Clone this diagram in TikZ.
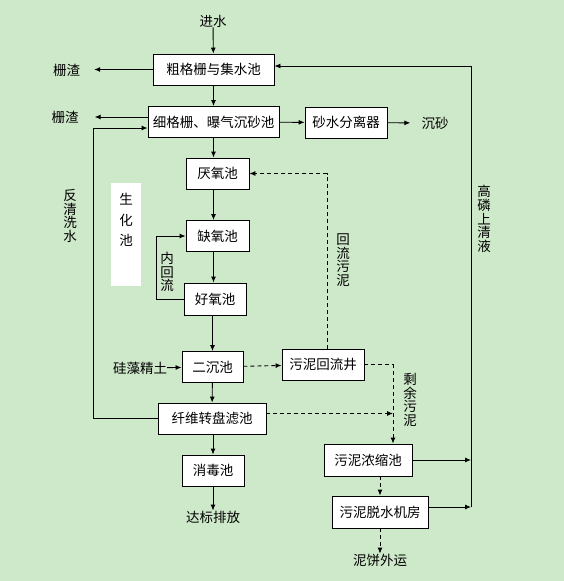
\documentclass[tikz,border=0pt]{standalone}
\usepackage{fontspec}
\newfontfamily\cjk{Noto Sans CJK SC}
\usetikzlibrary{arrows.meta, positioning}
\definecolor{bggreen}{RGB}{206,232,202}
\tikzset{%
>={Latex[width=5pt,length=6pt]},
  % Specifications for style of nodes:
            box/.style = {rectangle, draw=black, fill=white, line width=0.9pt,
                            inner sep=0pt, minimum height=31pt,
                            font=\cjk\fontsize{13.5}{14}\selectfont},
            tag/.style = {inner sep=0pt, font=\cjk\fontsize{13.5}{14}\selectfont},
            vtag/.style = {tag, align=center, font=\cjk\fontsize{13.5}{13.6}\selectfont},
            link/.style = {line width=0.9pt, ->},
            dlink/.style = {link, dash pattern=on 4pt off 3pt}
}
\begin{document}
\begin{tikzpicture}[x=1pt, y=-1pt]
                \fill[bggreen] (0,0) rectangle (564,581);

                % water line
                \node[box, minimum width=121pt] (b1) at (213.5,69.5) {粗格栅与集水池};
                \node[box, minimum width=131pt] (b2) at (213.5,122) {细格栅、曝气沉砂池};
                \node[box, minimum width=82pt] (sand) at (346,122.5) {砂水分离器};
                \node[box, minimum width=63pt] (b3) at (217.5,173.5) {厌氧池};
                \node[box, minimum width=63pt] (b4) at (217.5,236) {缺氧池};
                \node[box, minimum width=62pt, minimum height=32pt] (b5) at (215,299) {好氧池};
                \node[box, minimum width=61pt] (b6) at (212.5,367) {二沉池};
                \node[box, minimum width=108pt] (b7) at (212,418.5) {纤维转盘滤池};
                \node[box, minimum width=62pt] (b8) at (213,470.5) {消毒池};

                % sludge line
                \node[box, minimum width=82pt] (well) at (323,364.5) {污泥回流井};
                \node[box, minimum width=88pt, minimum height=32pt] (conc) at (368,460) {污泥浓缩池};
                \node[box, minimum width=96pt, minimum height=32pt] (dew) at (380,512) {污泥脱水机房};

                \node[tag] (in) at (213,21) {进水};
                \node[tag] (zha1) at (66.5,70) {栅渣};
                \node[tag] (zha2) at (65,117) {栅渣};
                \node[tag] (cs) at (435,123) {沉砂};
                \node[tag] (gz) at (140,368) {硅藻精土};
                \node[tag] (out) at (213,517) {达标排放};
                \node[tag] (cake) at (380,560) {泥饼外运};

                \node[fill=white, minimum width=30pt, minimum height=103pt] (bio) at (126,234.5) {};
                \node[vtag, font=\cjk\fontsize{13.5}{20.5}\selectfont] (biotxt) at (126,220) {生\\化\\池};
                \node[vtag] (fqx) at (70,216) {反\\清\\洗\\水};
                \node[vtag] (nhl) at (167,272) {内\\回\\流};
                \node[vtag] (hlwn) at (343,260) {回\\流\\污\\泥};
                \node[vtag] (syw) at (410,400) {剩\\余\\污\\泥};
                \node[vtag] (glq) at (484,219) {高\\磷\\上\\清\\液};

                \coordinate (rt) at (471,66);
                \coordinate (rb) at (471,507);
                \coordinate (bw) at (93,128);
                \coordinate (sl) at (393,365);

                \draw[link] (in) -- (b1);
                \draw[link, shorten >=14pt] (b1.west) -- (b1.west -| zha1.east);
                \draw[link] (b1) -- (b2);
                \draw[link, shorten >=16pt] ([yshift=5pt]b2.west) -- ([yshift=5pt]b2.west -| zha2.east);
                \draw[link] (b7.west) -| (bw) -- ([yshift=-6pt]b2.west);
                \draw[link] (b2) -- (sand);
                \draw[link, shorten >=11pt] (sand) -- (cs);
                \draw[link] (b2.south) -- (b2.south |- b3.north);
                \draw[link] (b3.south -| b1) -- (b4.north -| b1);
                \draw[link] (b4.south -| b1) -- (b5.north -| b1);
                \draw[link] (b5.south -| b6) -- (b6.north);
                \draw[link] (b6) -- (b7);
                \draw[link] (b7.south -| b8) -- (b8.north);
                \draw[link] (b8) -- (out);
                \draw[link] (b5.west) -- ++(-27,0) |- (b4.west);
                \draw[link] (gz) -- (b6);

                \draw[dlink] (b6) -- (well);
                \draw[dlink] ([xshift=4pt]well.north) |- (b3.east);
                \draw[dlink] (well.east) -| (sl |- conc.north);
                \draw[dlink] ([yshift=5pt]b7.east) -- ([yshift=5pt]b7.east -| sl);
                \draw[dlink] (conc.south -| dew) -- (dew.north);
                \draw[dlink] (dew) -- (cake);

                \draw[link] (conc.east) -- (conc.east -| rb);
                \draw[link] ([yshift=5pt]dew.east) -- (rb);
                \draw[link] (rb) -- (rt) -- ([yshift=3.5pt]b1.east);

            \end{tikzpicture}
\end{document}
